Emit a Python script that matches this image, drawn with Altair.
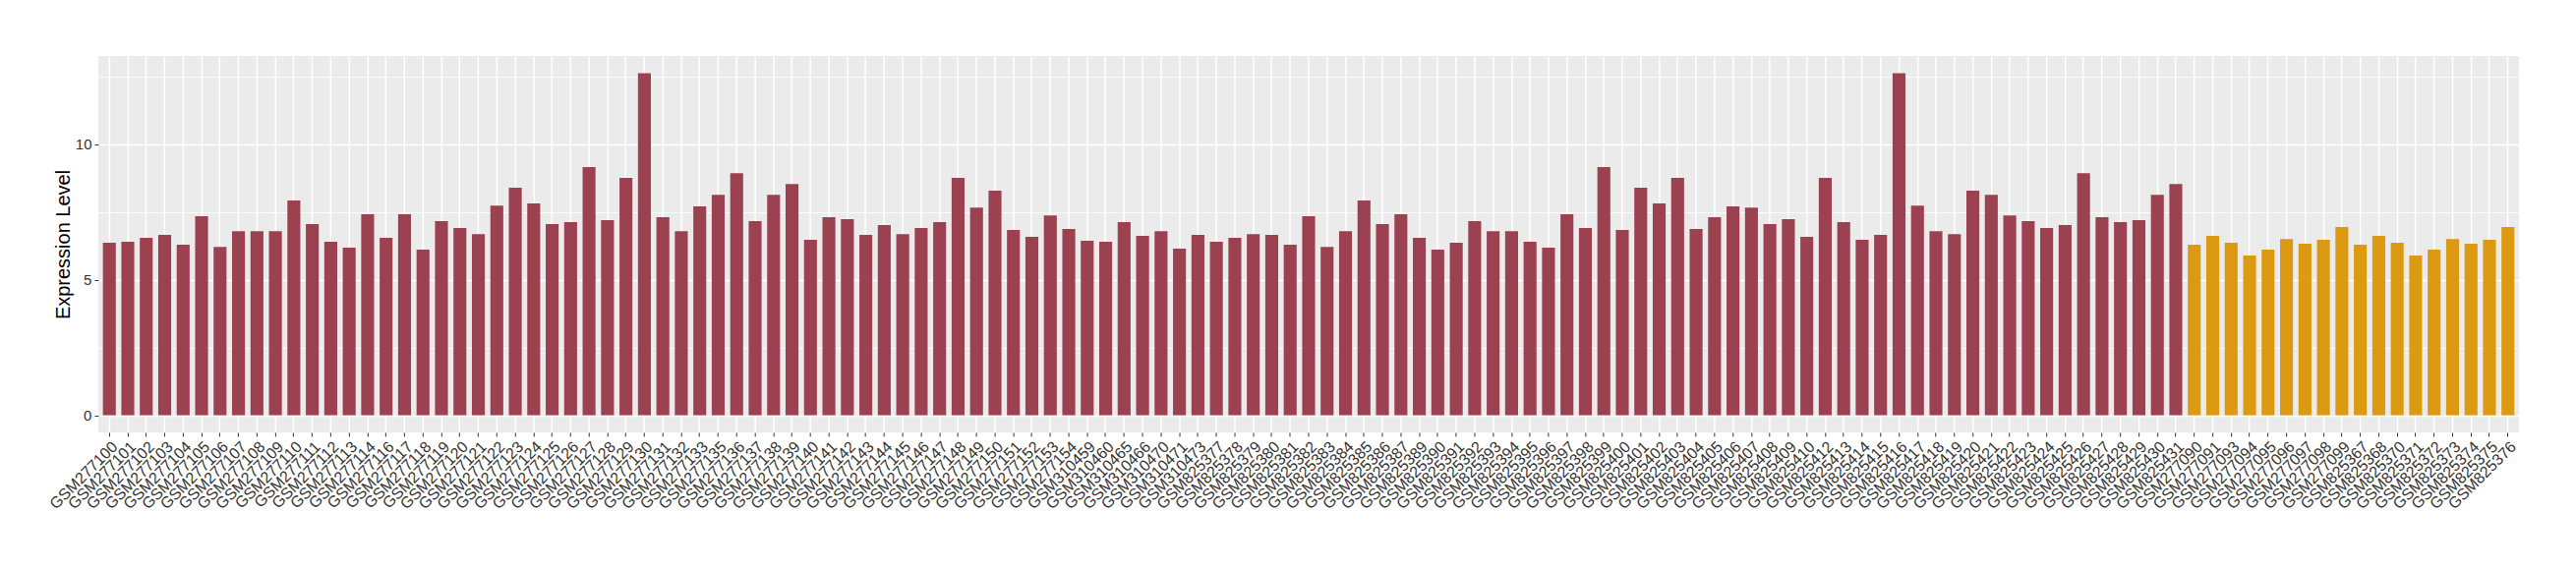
import altair as alt
import pandas as pd

# ---- data ----
SAMPLES_A = [
    "GSM277100", "GSM277101", "GSM277102", "GSM277103", "GSM277104", "GSM277105", "GSM277106",
    "GSM277107", "GSM277108", "GSM277109", "GSM277110", "GSM277111", "GSM277112", "GSM277113",
    "GSM277114", "GSM277116", "GSM277117", "GSM277118", "GSM277119", "GSM277120", "GSM277121",
    "GSM277122", "GSM277123", "GSM277124", "GSM277125", "GSM277126", "GSM277127", "GSM277128",
    "GSM277129", "GSM277130", "GSM277131", "GSM277132", "GSM277133", "GSM277135", "GSM277136",
    "GSM277137", "GSM277138", "GSM277139", "GSM277140", "GSM277141", "GSM277142", "GSM277143",
    "GSM277144", "GSM277145", "GSM277146", "GSM277147", "GSM277148", "GSM277149", "GSM277150",
    "GSM277151", "GSM277152", "GSM277153", "GSM277154",
    "GSM310459", "GSM310460", "GSM310465", "GSM310466", "GSM310470", "GSM310471", "GSM310473",
    "GSM825377", "GSM825378", "GSM825379", "GSM825380", "GSM825381", "GSM825382", "GSM825383",
    "GSM825384", "GSM825385", "GSM825386", "GSM825387", "GSM825389", "GSM825390", "GSM825391",
    "GSM825392", "GSM825393", "GSM825394", "GSM825395", "GSM825396", "GSM825397", "GSM825398",
    "GSM825399", "GSM825400", "GSM825401", "GSM825402", "GSM825403", "GSM825404", "GSM825405",
    "GSM825406", "GSM825407", "GSM825408", "GSM825409", "GSM825410", "GSM825412", "GSM825413",
    "GSM825414", "GSM825415", "GSM825416", "GSM825417", "GSM825418", "GSM825419", "GSM825420",
    "GSM825421", "GSM825422", "GSM825423", "GSM825424", "GSM825425", "GSM825426", "GSM825427",
    "GSM825428", "GSM825429", "GSM825430", "GSM825431",
]
VALUES_A = [
    6.37, 6.41, 6.55, 6.66, 6.30, 7.35, 6.22,
    6.80, 6.80, 6.80, 7.93, 7.06, 6.41, 6.19,
    7.42, 6.55, 7.42, 6.12, 7.17, 6.91, 6.69,
    7.74, 8.40, 7.82, 7.06, 7.13, 9.16, 7.20,
    8.76, 12.63, 7.31, 6.80, 7.71, 8.14, 8.94,
    7.17, 8.14, 8.54, 6.48, 7.31, 7.24, 6.66,
    7.02, 6.69, 6.91, 7.13, 8.76, 7.67, 8.29,
    6.84, 6.59, 7.38, 6.88,
    6.44, 6.41, 7.13, 6.62, 6.80, 6.15, 6.66,
    6.41, 6.55, 6.69, 6.66, 6.30, 7.35, 6.22,
    6.80, 7.93, 7.06, 7.42, 6.55, 6.12, 6.37,
    7.17, 6.80, 6.80, 6.41, 6.19, 7.42, 6.91,
    9.16, 6.84, 8.40, 7.82, 8.76, 6.88, 7.31,
    7.71, 7.67, 7.06, 7.24, 6.59, 8.76, 7.13,
    6.48, 6.66, 12.63, 7.74, 6.80, 6.69, 8.29,
    8.14, 7.38, 7.17, 6.91, 7.02, 8.94, 7.31,
    7.13, 7.20, 8.14, 8.54,
]
SAMPLES_B = [
    "GSM277090", "GSM277091", "GSM277093", "GSM277094", "GSM277095", "GSM277096",
    "GSM277097", "GSM277098", "GSM277099",
    "GSM825367", "GSM825368", "GSM825370", "GSM825371", "GSM825372", "GSM825373",
    "GSM825374", "GSM825375", "GSM825376",
]
VALUES_B = [
    6.30, 6.62, 6.37, 5.90, 6.12, 6.51, 6.33, 6.48, 6.95,
    6.30, 6.62, 6.37, 5.90, 6.12, 6.51, 6.33, 6.48, 6.95,
]
GROUP_NAMES = ["Group A", "Group B"]
GROUP_COLORS = ["#9B4150", "#DC9A13"]
# major ticks are multiples of 5, the others are minor grid lines
Y_GRID_VALUES = [0, 2.5, 5, 7.5, 10, 12.5]
Y_DOMAIN = [-0.63, 13.26]

df = pd.DataFrame({
    "sample": SAMPLES_A + SAMPLES_B,
    "value": VALUES_A + VALUES_B,
    "group": [GROUP_NAMES[0]] * len(SAMPLES_A) + [GROUP_NAMES[1]] * len(SAMPLES_B),
})

W, H = 2463, 383
FONT = "Liberation Sans"
TEXT_COLOR = "#333333"
MAJOR = "datum.value % 5 === 0"

chart = alt.Chart(df).mark_bar().encode(
    x=alt.X(
        "sample:N",
        sort=None,
        scale=alt.Scale(paddingInner=0.3, paddingOuter=0.25),
        axis=alt.Axis(
            title=None,
            labelAngle=-45,
            labelAlign="right",
            labelBaseline="top",
            labelFontSize=16,
            labelColor=TEXT_COLOR,
            labelFont=FONT,
            labelPadding=2,
            labelOverlap=False,
            labelBound=False,
            ticks=True,
            tickSize=4,
            tickColor="#333333",
            tickWidth=1,
            bandPosition=0.5,
            grid=True,
            gridColor="white",
            gridWidth=1.5,
            domain=False,
        ),
    ),
    y=alt.Y(
        "value:Q",
        scale=alt.Scale(domain=Y_DOMAIN, nice=False, zero=False),
        axis=alt.Axis(
            title="Expression Level",
            values=Y_GRID_VALUES,
            labelExpr=f"{MAJOR} ? datum.label : ''",
            titleFont=FONT,
            titleFontSize=20,
            titleFontWeight="normal",
            titleColor="black",
            titleAngle=-90,
            titleAlign="center",
            titleBaseline="middle",
            titleX=-35,
            titleY=H / 2,
            labelFont=FONT,
            labelFontSize=15,
            labelColor=TEXT_COLOR,
            labelPadding=3,
            tickSize=4,
            tickColor="#333333",
            tickWidth=1,
            tickOpacity=alt.condition(MAJOR, alt.value(1), alt.value(0)),
            grid=True,
            gridColor="white",
            gridWidth=alt.condition(MAJOR, alt.value(1.6), alt.value(0.8)),
            domain=False,
        ),
    ),
    y2=alt.datum(0),
    color=alt.Color(
        "group:N",
        scale=alt.Scale(domain=GROUP_NAMES, range=GROUP_COLORS),
        legend=None,
    ),
).properties(
    width=W,
    height=H,
    background="white",
    autosize=alt.AutoSizeParams(type="none"),
    padding={"left": 92, "top": 49, "right": 50, "bottom": 110},
).configure_view(fill="#EBEBEB", strokeWidth=0)

chart.save("out.html", embed_options={"renderer": "svg", "actions": False})
